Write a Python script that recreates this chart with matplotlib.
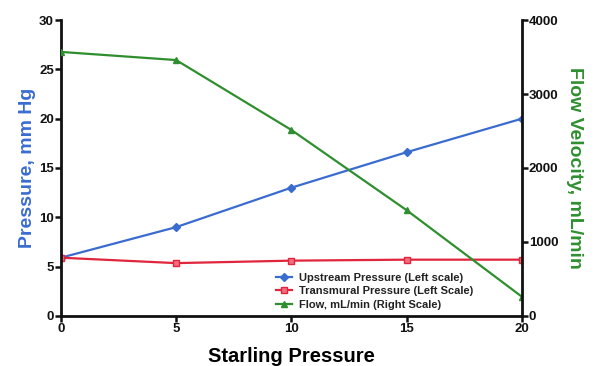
import matplotlib
matplotlib.use("Agg")
import matplotlib.pyplot as plt
from matplotlib.lines import Line2D

plt.rcParams['font.family'] = ['Liberation Sans', 'DejaVu Sans']
plt.rcParams['font.weight'] = 'bold'

starling = [0, 5, 10, 15, 20]
upstream = [5.9, 9.0, 13.0, 16.6, 20.0]
transmural = [5.9, 5.35, 5.6, 5.7, 5.7]
flow = [3570, 3460, 2515, 1430, 260]

x_ticks = [0, 5, 10, 15, 20]
left_ticks = [0, 5, 10, 15, 20, 25, 30]
right_ticks = [0, 1000, 2000, 3000, 4000]

blue = '#3a6cd0'
red = '#e0253c'
green = '#2f8f2f'

fig = plt.figure(figsize=(5.97, 3.66), dpi=100)
ax = fig.add_axes([0.102, 0.137, 0.772, 0.808])
ax2 = ax.twinx()

ax.plot(starling, upstream, color=blue, lw=1.6, marker='D', ms=4, mfc=blue, mec=blue)
ax.plot(starling, transmural, color=red, lw=1.6, marker='s', ms=4.5, mfc='#f07080', mec=red)
ax2.plot(starling, flow, color=green, lw=1.6, marker='^', ms=4.5, mfc=green, mec=green)

ax.set_xlim(0, 20)
ax.set_ylim(0, 30)
ax2.set_ylim(0, 4000)
ax.set_xticks(x_ticks)
ax.set_yticks(left_ticks)
ax2.set_yticks(right_ticks)

for a in (ax, ax2):
    a.spines['top'].set_visible(False)
    for s in a.spines.values():
        s.set_linewidth(2)
        s.set_color('#111111')
    a.tick_params(width=1.8, length=4, labelsize=9.5, colors='#111111', pad=1)
ax.spines['right'].set_visible(False)
ax2.spines['left'].set_visible(False)
ax2.spines['bottom'].set_visible(False)
for lbl in ax.get_xticklabels() + ax.get_yticklabels() + ax2.get_yticklabels():
    lbl.set_fontweight('bold')

ax.set_ylabel('Pressure, mm Hg', color=blue, fontsize=14, fontweight='bold', labelpad=2)
ax2.set_ylabel('Flow Velocity, mL/min', color=green, fontsize=14, fontweight='bold',
               rotation=270, labelpad=18)
ax.set_xlabel('Starling Pressure', fontsize=14.5, fontweight='bold', labelpad=9)

handles = [
    Line2D([], [], color=blue, lw=1.6, marker='D', ms=4, mfc=blue, mec=blue),
    Line2D([], [], color=red, lw=1.6, marker='s', ms=4.5, mfc='#f07080', mec=red),
    Line2D([], [], color=green, lw=1.6, marker='^', ms=4.5, mfc=green, mec=green),
]
labels = ['Upstream Pressure (Left scale)', 'Transmural Pressure (Left Scale)',
          'Flow, mL/min (Right Scale)']
leg = ax.legend(handles, labels, loc='lower left', bbox_to_anchor=(0.45, -0.005),
                frameon=False, fontsize=8, handlelength=1.4, handletextpad=0.7,
                labelspacing=0.3, borderpad=0.2)
for t in leg.get_texts():
    t.set_color('#222222')

fig.savefig('out.png', dpi=100)
